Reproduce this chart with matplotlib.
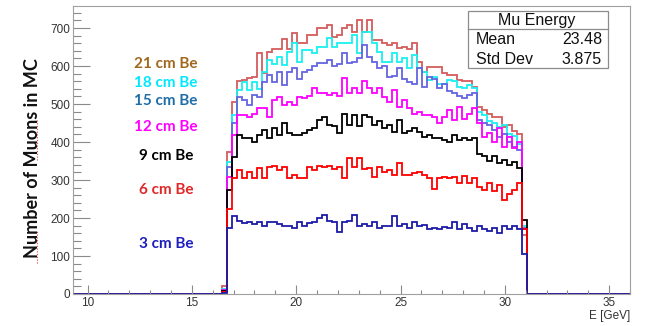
import numpy as np
import matplotlib
matplotlib.use('Agg')
import matplotlib.pyplot as plt
from matplotlib.patches import Rectangle
from matplotlib.lines import Line2D
from matplotlib.ticker import MultipleLocator

# bin layout: one small bin before the rise, 59 full bins, one partial bin at the cut
bin_start = 16.42
bin_width = 0.24
x_lo, x_hi = 9.3, 36.0

pre_bin = {'21': 20, '18': 12, '15': 10, '12': 10, '9': 8, '6': 5, '3': 3}
last_bin = {'21': 155, '18': 180, '15': 175, '12': 170, '9': 196, '6': 170, '3': 105}

be21 = [374, 505, 561, 563, 569, 572, 635, 581, 638, 644,
        644, 670, 645, 686, 660, 660, 682, 682, 699, 699,
        708, 677, 682, 699, 708, 690, 721, 690, 721, 669,
        669, 660, 656, 660, 647, 651, 645, 660, 611, 585,
        598, 598, 598, 581, 576, 576, 563, 561, 561, 546,
        493, 484, 475, 466, 466, 440, 445, 430, 420]
be18 = [348, 471, 537, 559, 537, 559, 540, 585, 616, 605,
        624, 602, 638, 660, 611, 642, 642, 633, 651, 651,
        673, 651, 660, 660, 660, 682, 633, 690, 690, 660,
        638, 611, 611, 633, 611, 620, 594, 629, 594, 585,
        563, 572, 554, 554, 563, 560, 546, 541, 550, 541,
        480, 470, 455, 450, 440, 445, 420, 415, 395]
be15 = [335, 449, 518, 511, 497, 524, 518, 559, 576, 559,
        585, 550, 585, 594, 567, 585, 590, 600, 607, 607,
        615, 600, 605, 633, 607, 610, 620, 655, 625, 611,
        594, 600, 572, 575, 594, 565, 559, 554, 594, 546,
        572, 565, 541, 554, 533, 529, 520, 515, 525, 530,
        457, 449, 445, 431, 414, 420, 400, 388, 379]
be12 = [309, 418, 471, 471, 466, 475, 489, 489, 466, 511,
        518, 497, 505, 497, 518, 515, 520, 541, 530, 528,
        525, 528, 520, 568, 528, 541, 528, 560, 541, 528,
        541, 518, 505, 537, 493, 510, 489, 475, 480, 471,
        471, 466, 449, 466, 484, 457, 493, 460, 475, 489,
        449, 414, 425, 400, 437, 388, 414, 383, 401]
be9 = [274, 361, 418, 410, 410, 401, 418, 432, 410, 436,
       418, 449, 423, 418, 418, 425, 432, 436, 458, 466,
       445, 441, 423, 475, 445, 470, 441, 471, 467, 445,
       455, 436, 445, 427, 458, 423, 430, 436, 427, 414,
       418, 410, 410, 405, 401, 418, 405, 410, 405, 410,
       368, 363, 350, 363, 344, 352, 339, 348, 331]
be6 = [225, 304, 326, 304, 322, 304, 331, 304, 335, 337,
       326, 335, 304, 313, 304, 304, 335, 326, 337, 335,
       337, 330, 335, 304, 357, 335, 357, 330, 331, 309,
       335, 322, 326, 313, 344, 313, 313, 318, 320, 313,
       304, 277, 304, 308, 304, 308, 291, 311, 291, 304,
       282, 275, 291, 270, 288, 247, 264, 275, 291]
be3 = [173, 204, 193, 186, 190, 185, 190, 180, 190, 190,
       184, 180, 180, 173, 190, 180, 186, 190, 199, 208,
       193, 190, 164, 190, 193, 208, 180, 185, 180, 190,
       175, 180, 178, 205, 180, 185, 175, 190, 180, 182,
       170, 175, 172, 177, 175, 190, 170, 185, 175, 165,
       180, 170, 165, 175, 160, 180, 170, 178, 172]

series = [('21', be21, '#d45c5c'), ('18', be18, '#19f0f0'), ('15', be15, '#6464e0'),
          ('12', be12, '#ff00ff'), ('9', be9, '#000000'), ('6', be6, '#ff0000'),
          ('3', be3, '#1c1ca8')]

labels = ['21 cm Be', '18 cm Be', '15 cm Be', '12 cm Be', '9 cm Be', '6 cm Be', '3 cm Be']
label_colors = ['#a2671c', '#00e8ff', '#1f6ea8', '#ff00ff', '#000000', '#e02828', '#1e1ec0']
label_y = [64, 83, 101, 127, 156, 190, 244]

W, H = 648, 326
fig = plt.figure(figsize=(W / 100, H / 100), dpi=100)
ax = fig.add_axes([73 / W, 1 - 294 / H, (630 - 73) / W, 288 / H])

n = len(be21) + 2
edges = bin_start + bin_width * np.arange(n + 1)
full_edges = np.concatenate([[x_lo], edges, [x_hi]])

for key, vals, col in series:
    counts = [0, pre_bin[key]] + vals + [last_bin[key], 0]
    ax.stairs(counts, full_edges, color=col, lw=1.3, baseline=None)

ax.set_xlim(x_lo, x_hi)
ax.set_ylim(0, 758)
ax.xaxis.set_major_locator(MultipleLocator(5))
ax.xaxis.set_minor_locator(MultipleLocator(1))
ax.yaxis.set_major_locator(MultipleLocator(100))
ax.yaxis.set_minor_locator(MultipleLocator(20))
ax.tick_params(axis='x', which='major', direction='in', length=6.2, width=0.8, color='#8a8a8a', pad=2)
ax.tick_params(axis='x', which='minor', direction='in', length=3.1, width=0.8, color='#8a8a8a')
ax.tick_params(axis='y', which='major', direction='in', length=12.2, width=0.8, color='#8a8a8a', pad=2)
ax.tick_params(axis='y', which='minor', direction='in', length=6.1, width=0.8, color='#8a8a8a')
for lab in ax.get_xticklabels() + ax.get_yticklabels():
    lab.set_fontfamily('Liberation Sans')
    lab.set_fontsize(8.5)
    lab.set_color('#333333')
for sp in ax.spines.values():
    sp.set_color('#a0a0a0')
    sp.set_linewidth(0.8)

fig.text(630 / W, 1 - 316 / H, 'E [GeV]', ha='right', va='center',
         family='Liberation Sans', fontsize=8.5, color='#333333')

fig.text(33 / W, 1 - 158 / H, 'Number of Muons in MC', rotation=90, ha='center', va='center',
         family='Lato', weight='bold', fontsize=13, color='#111111')
# spell-check squiggles under the rotated label
fig.add_artist(Line2D([37 / W, 37 / W], [1 - 263 / H, 1 - 230 / H], color='#e04040',
                      lw=0.8, ls=(0, (1, 1.5))))
fig.add_artist(Line2D([37 / W, 37 / W], [1 - 160 / H, 1 - 120 / H], color='#e04040',
                      lw=0.8, ls=(0, (1, 1.5))))

for txt, col, yy in zip(labels, label_colors, label_y):
    fig.text(166 / W, 1 - yy / H, txt, ha='center', va='center',
             family='Lato', weight='bold', fontsize=11, color=col)

# stats box
fig.add_artist(Rectangle((468 / W, 1 - 68 / H), 140 / W, 57 / H, transform=fig.transFigure,
                         facecolor='white', edgecolor='#8c8c8c', lw=0.9, zorder=5))
fig.add_artist(Line2D([468 / W, 608 / W], [1 - 29 / H, 1 - 29 / H], color='#8c8c8c', lw=0.9, zorder=6))
st = dict(family='Liberation Sans', fontsize=11.5, color='#111111', va='center', zorder=7)
fig.text(537 / W, 1 - 20 / H, 'Mu Energy', ha='center', **st)
fig.text(476 / W, 1 - 40 / H, 'Mean', ha='left', **st)
fig.text(602 / W, 1 - 40 / H, '23.48', ha='right', **st)
fig.text(476 / W, 1 - 60 / H, 'Std Dev', ha='left', **st)
fig.text(602 / W, 1 - 60 / H, '3.875', ha='right', **st)

fig.savefig('out.png', dpi=100)
